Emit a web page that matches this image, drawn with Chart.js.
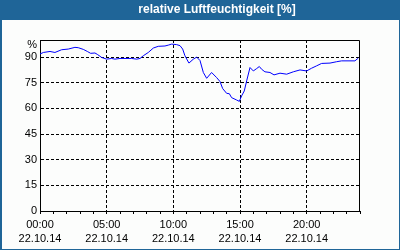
<!DOCTYPE html>
<html>
<head>
<meta charset="utf-8">
<script src="https://cdn.jsdelivr.net/npm/chart.js@4"></script>
<style>
    html, body { margin: 0; padding: 0; background: #fcfdfc; }
    #wrap { position: relative; width: 400px; height: 250px; }
</style>
</head>
<body>
<div id="wrap"><canvas id="humChart" width="400" height="250"></canvas></div>
<script>
// time of day in hours
const hours = [
    0.0, 0.25, 0.75, 1.12, 1.62, 2.12, 2.62, 2.87, 3.25, 3.55, 3.8, 4.12, 4.3, 4.62,
    5.0, 5.37, 5.62, 6.0, 6.87, 7.25, 7.5, 7.75, 8.12, 8.5, 8.87, 9.37, 9.62, 9.87,
    10.25, 10.5, 10.7, 10.87, 11.17, 11.5, 11.75, 12.0, 12.25, 12.5, 12.87, 13.25,
    13.5, 13.7, 14.0, 14.2, 14.37, 14.75, 14.95, 15.12, 15.32, 15.5, 15.75, 16.0,
    16.25, 16.45, 16.62, 16.87, 17.25, 17.55, 18.0, 18.5, 19.0, 19.5, 20.0, 20.37,
    20.75, 21.12, 21.75, 22.25, 22.62, 23.62, 23.87
];
const humidity = [
    91.8, 92.7, 93.3, 92.7, 94.3, 94.7, 95.7, 95.5, 94.5, 93.3, 92.2, 92.4, 91.6, 89.8,
    88.8, 89.2, 88.8, 89.2, 89.2, 88.8, 89.2, 90.8, 92.7, 95.3, 96.3, 96.5, 97.0, 97.6,
    97.3, 96.7, 94.7, 90.8, 86.5, 88.8, 90.0, 88.0, 81.0, 77.6, 81.0, 78.0,
    75.7, 71.6, 68.8, 68.6, 66.3, 64.9, 64.1, 67.3, 70.2, 76.1, 83.9, 81.9,
    83.3, 84.5, 82.9, 81.4, 81.0, 79.6, 80.6, 80.0, 81.4, 82.5, 81.9, 83.5,
    84.9, 86.3, 86.5, 87.3, 87.8, 87.8, 89.4
];
const timeLabels = ["00:00", "05:00", "10:00", "15:00", "20:00"];
const dateLabel = "22.10.14";
const yTicks = [0, 15, 30, 45, 60, 75, 90];
const unitLabel = "%";
const titleText = "relative Luftfeuchtigkeit [%]";

const frame = {
    id: "frame",
    beforeDraw(chart) {
        const c = chart.ctx;
        c.save();
        c.fillStyle = "#fcfdfc";
        c.fillRect(0, 0, 400, 250);
        c.fillStyle = "#1f6598";
        c.fillRect(0, 0, 400, 20);
        c.fillRect(0, 0, 2, 250);
        c.fillRect(399, 0, 1, 250);
        c.fillRect(0, 249, 400, 1);
        c.fillStyle = "#ffffff";
        c.font = "bold 12px 'Liberation Sans', sans-serif";
        c.textAlign = "center";
        c.textBaseline = "middle";
        c.fillText(titleText, 217, 10);
        c.restore();
    },
    afterDraw(chart) {
        const a = chart.chartArea;
        const c = chart.ctx;
        c.save();
        c.strokeStyle = "#000000";
        c.lineWidth = 1;
        c.beginPath();
        c.moveTo(Math.round(a.left) + 0.5, Math.round(a.top) + 0.5);
        c.lineTo(Math.round(a.right) - 0.5, Math.round(a.top) + 0.5);
        c.lineTo(Math.round(a.right) - 0.5, Math.round(a.bottom) + 0.5);
        c.stroke();
        c.fillStyle = "#000000";
        c.font = "11px 'Liberation Sans', sans-serif";
        c.textAlign = "right";
        c.textBaseline = "middle";
        c.fillText(unitLabel, 37, 45);
        c.restore();
    }
};

new Chart(document.getElementById("humChart"), {
    type: "line",
    data: {
        datasets: [{
            data: hours.map((h, i) => ({ x: h, y: humidity[i] })),
            borderColor: "#0000ff",
            borderWidth: 1,
            pointRadius: 0,
            tension: 0,
            fill: false
        }]
    },
    options: {
        responsive: false,
        animation: false,
        layout: { padding: { left: 0, top: 40, right: 40, bottom: 0 } },
        plugins: {
            legend: { display: false },
            tooltip: { enabled: false }
        },
        scales: {
            x: {
                type: "linear",
                min: 0,
                max: 24,
                afterFit(scale) { scale.height = 39; },
                ticks: {
                    stepSize: 1,
                    autoSkip: false,
                    maxRotation: 0,
                    padding: 4,
                    color: "#000000",
                    font: { family: "'Liberation Sans', sans-serif", size: 11, lineHeight: 1.27 },
                    callback(value) {
                        if (value % 5 === 0 && value < 24) {
                            return [timeLabels[value / 5], dateLabel];
                        }
                        return "";
                    }
                },
                grid: {
                    color(ctx) {
                        const v = ctx.tick && ctx.tick.value;
                        return (v % 5 === 0 && v > 0 && v < 24) ? "#000000" : "rgba(0,0,0,0)";
                    },
                    tickColor: "#000000",
                    tickLength: 3,
                    drawTicks: true
                },
                border: { color: "#000000", width: 1, dash: [3, 2] }
            },
            y: {
                min: 0,
                max: 100,
                afterFit(scale) { scale.width = 40; },
                afterBuildTicks(scale) {
                    scale.ticks = yTicks.map(v => ({ value: v }));
                },
                ticks: {
                    padding: 3,
                    color: "#000000",
                    font: { family: "'Liberation Sans', sans-serif", size: 11 }
                },
                grid: {
                    color(ctx) {
                        const v = ctx.tick && ctx.tick.value;
                        return v > 0 ? "#000000" : "rgba(0,0,0,0)";
                    },
                    drawTicks: false
                },
                border: { color: "#000000", width: 1, dash: [3, 2] }
            }
        }
    },
    plugins: [frame]
});
</script>
</body>
</html>
